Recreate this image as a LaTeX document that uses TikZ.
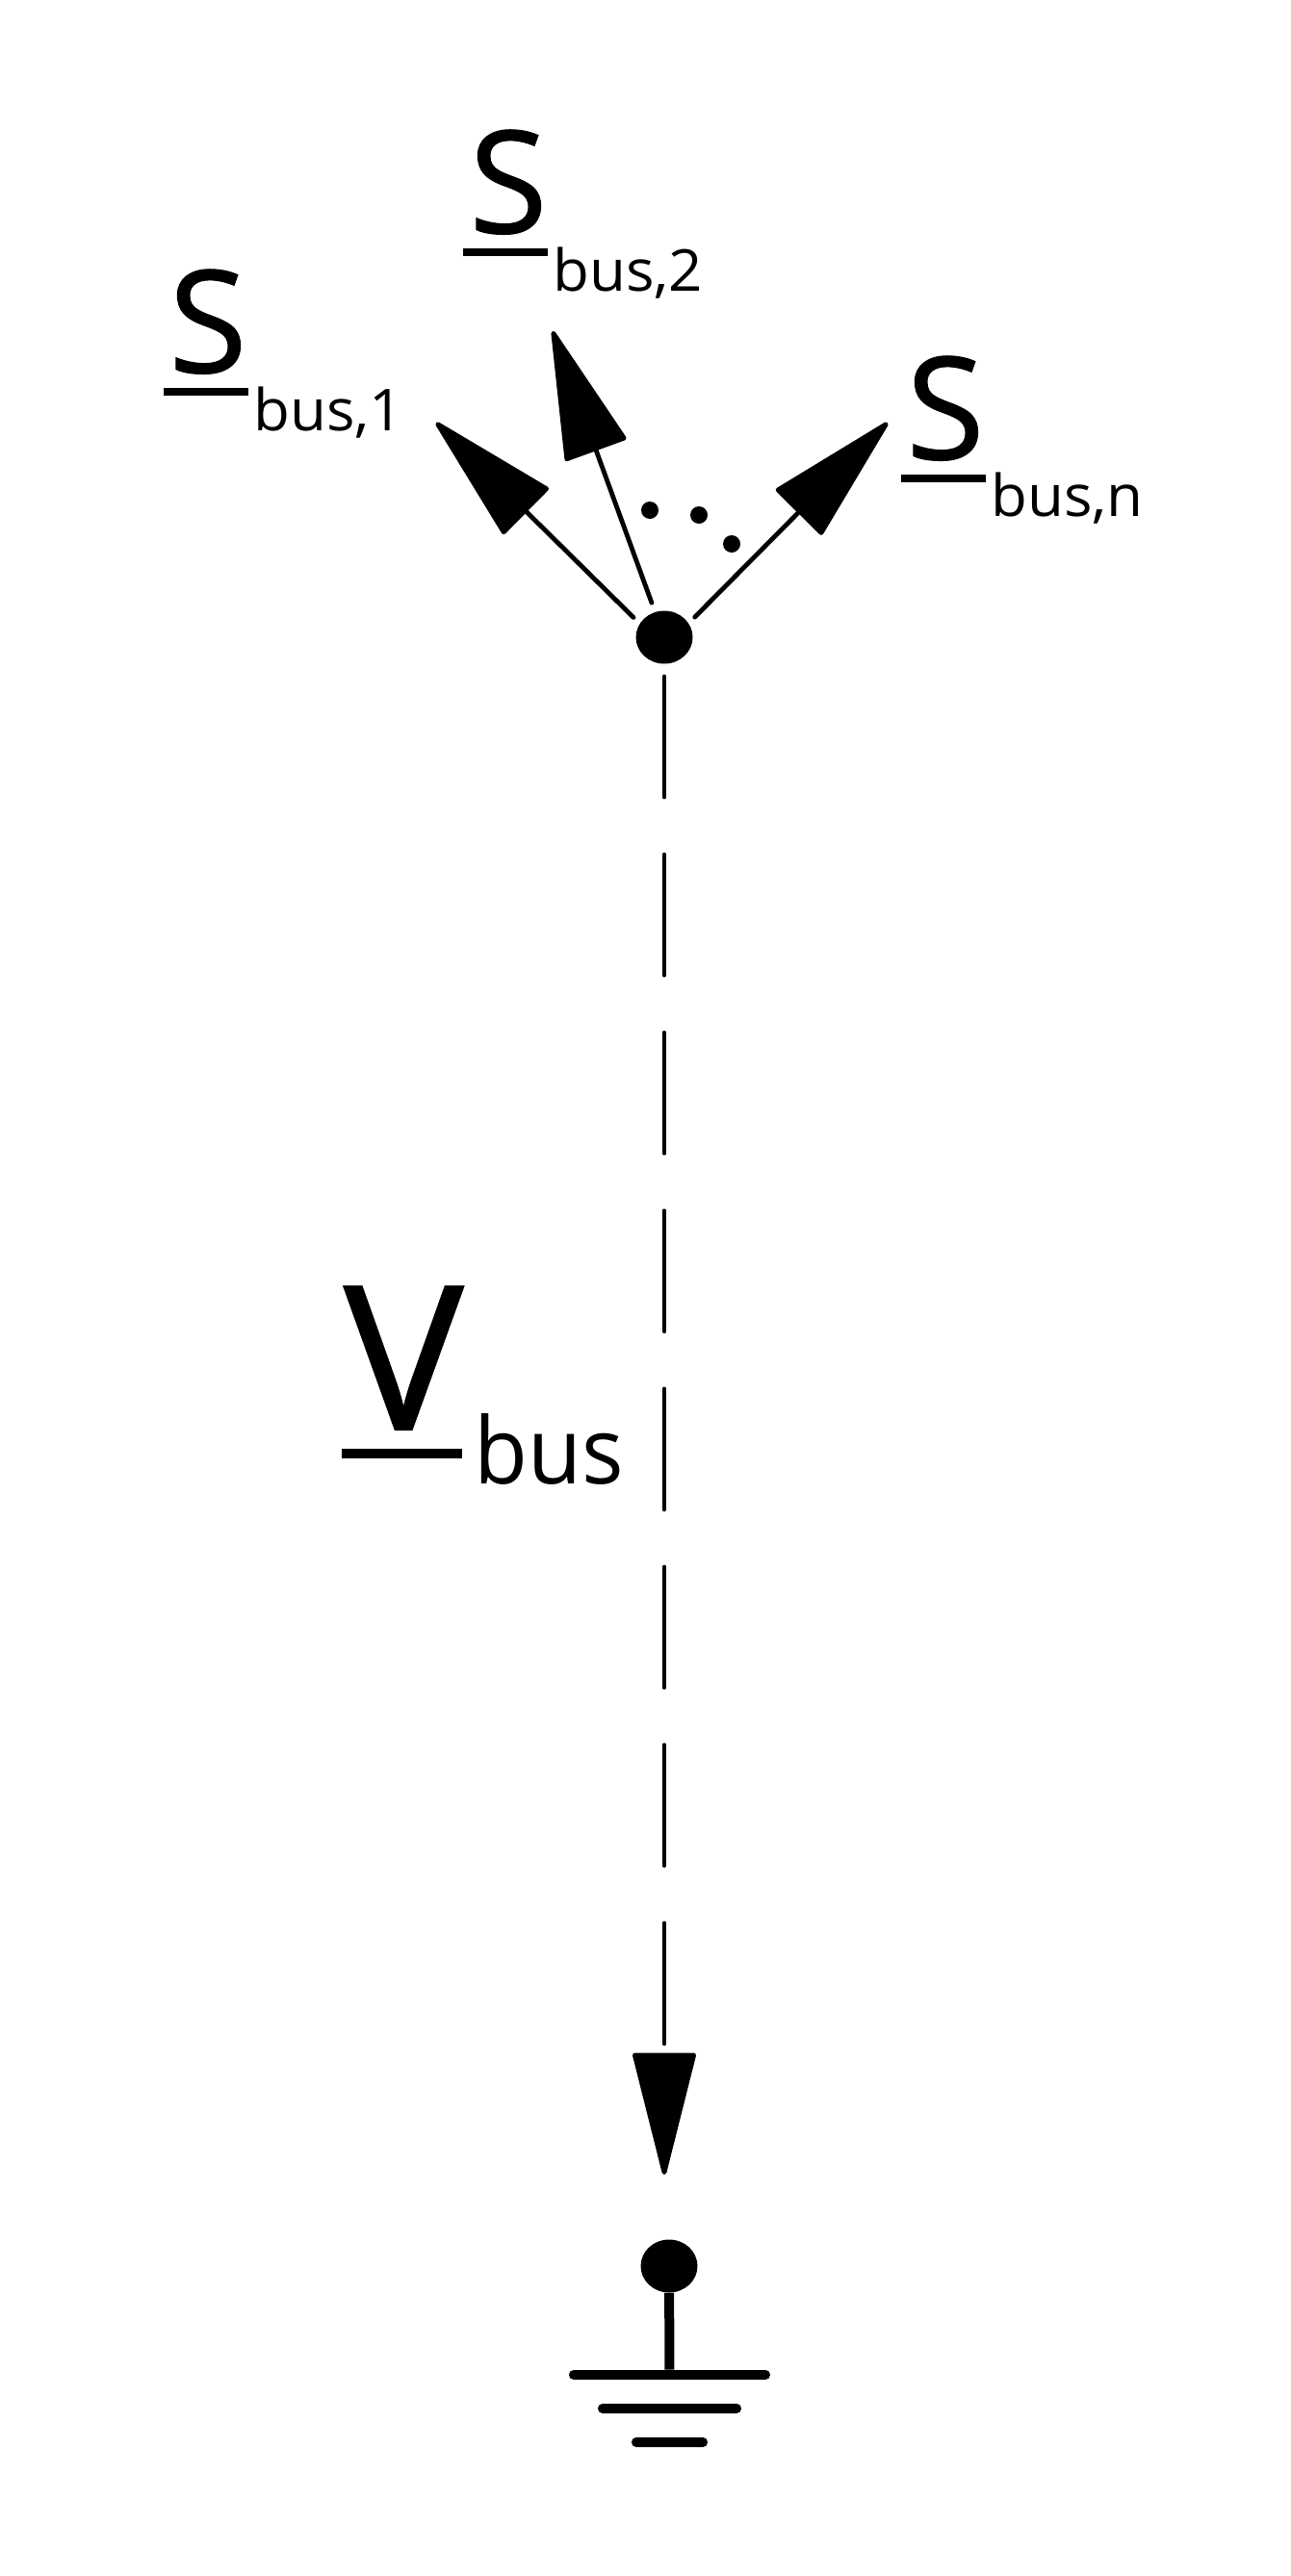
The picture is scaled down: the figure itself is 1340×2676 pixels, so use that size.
\documentclass[tikz,border=0pt]{standalone}
\usepackage{fontspec}
\setmainfont{Open Sans}
\usetikzlibrary{arrows.meta, positioning, shapes.geometric}
\tikzset{
	dotnode/.style={ellipse, fill=black, inner sep=0pt, minimum width=29.5pt, minimum height=27.5pt},
	smalldot/.style={circle, fill=black, inner sep=0pt, minimum size=9pt},
	flowline/.style={line width=2.4pt, line cap=round, -{Triangle[length=70pt, width=34pt, round]}},
	voltline/.style={line width=2.4pt, line cap=round, -{Triangle[length=67pt, width=33pt, round]}, dash pattern=on 62.5pt off 30pt},
	sym/.style={anchor=base west, inner sep=0pt, font=\fontsize{74}{74}\selectfont\addfontfeature{FakeBold=0.8}},
	symsub/.style={anchor=base west, inner sep=0pt, font=\fontsize{30}{30}\selectfont, xscale=1.03},
	ubar/.style={fill=black, inner sep=0pt, minimum height=3.8pt},
	gndbar/.style={fill=black, inner sep=0pt, minimum height=5pt, rounded corners=2.4pt},
	gndline/.style={line width=5pt}
}
\begin{document}
\begin{tikzpicture}[x=0.5pt, y=-0.5pt]
	\useasboundingbox (0,0) rectangle (1340,2676);

	% bus and ground
	\node[dotnode] (busDot) at (690,662) {};
	\node[dotnode] (gndDot) at (695,2354) {};
	\node[gndbar, minimum width=104.5pt] (gndBarA) at (695.5,2467) {};
	\node[gndbar, minimum width=74.5pt] (gndBarB) at (695.5,2502) {};
	\node[gndbar, minimum width=39.5pt] (gndBarC) at (695.5,2537) {};
	\draw[gndline] (gndDot) -- (gndBarA);

	% free ends of the arrows
	\coordinate (busFan) at (690,673);
	\coordinate (tipOne) at (453,439);
	\coordinate (tipTwo) at (574,344);
	\coordinate (tipN) at (922,439);
	\coordinate (voltEnd) at (690,2259);

	\draw[flowline, shorten <=22.5pt] (busFan) -- (tipOne);
	\draw[flowline, shorten <=5pt] (busDot) -- (tipTwo);
	\draw[flowline, shorten <=22.5pt] (busFan) -- (tipN);
	\draw[voltline, shorten <=6.5pt] (busDot) -- (voltEnd);

	% dots between the arrows
	\node[smalldot] (gapA) at (675,530) {};
	\node[smalldot] (gapB) at (726,535) {};
	\node[smalldot] (gapC) at (760,565) {};

	% powers
	\node[sym] (sOne) at (175,387) {S};
	\node[ubar, minimum width=44pt] (sOneBar) at (214,407) {};
	\node[symsub] (sOneSub) at (263,447) {bus,1};

	\node[sym] (sTwo) at (487,242) {S};
	\node[ubar, minimum width=44pt] (sTwoBar) at (525,262) {};
	\node[symsub] (sTwoSub) at (574,302) {bus,2};

	\node[sym] (sN) at (941,477) {S};
	\node[ubar, minimum width=44pt] (sNBar) at (980,497) {};
	\node[symsub] (sNSub) at (1029,536) {bus,n};

	% voltage
	\node[anchor=base west, inner sep=0pt, font=\fontsize{104}{104}\selectfont\addfontfeature{FakeBold=1}] (vBus) at (357,1485) {V};
	\node[ubar, minimum width=62.5pt, minimum height=5pt] (vBar) at (417.5,1510) {};
	\node[anchor=base west, inner sep=0pt, font=\fontsize{48}{48}\selectfont, xscale=0.95] (vSub) at (492,1541) {bus};
\end{tikzpicture}
\end{document}
